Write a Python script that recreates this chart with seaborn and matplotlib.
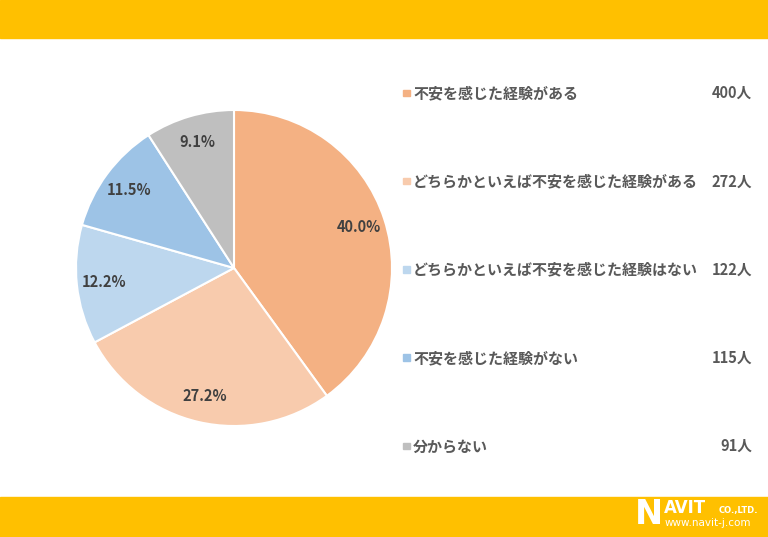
import matplotlib
matplotlib.use("Agg")
import matplotlib.pyplot as plt
import matplotlib.patches as mpatches
import numpy as np
import seaborn as sns

categories = ["不安を感じた経験がある", "どちらかといえば不安を感じた経験がある",
              "どちらかといえば不安を感じた経験はない", "不安を感じた経験がない", "分からない"]
counts = [400, 272, 122, 115, 91]
pct_labels = ["40.0%", "27.2%", "12.2%", "11.5%", "9.1%"]
colors = ["#F4B183", "#F8CBAD", "#BDD7EE", "#9DC3E6", "#BFBFBF"]

sns.set_theme(style="white")
plt.rcParams['font.family'] = ['Noto Sans CJK JP', 'DejaVu Sans']

W, H = 768, 537
fig = plt.figure(figsize=(W / 100, H / 100), dpi=100)
fig.patch.set_facecolor("white")

# yellow bands top and bottom
band = "#FFC000"
fig.add_artist(mpatches.Rectangle((0, 1 - 38 / H), 1, 38 / H, transform=fig.transFigure,
                                  color=band, zorder=0))
fig.add_artist(mpatches.Rectangle((0, 0), 1, 40 / H, transform=fig.transFigure,
                                  color=band, zorder=0))

# pie
cx, cy, r = 234, H - 268, 158
ax = fig.add_axes([(cx - r) / W, (cy - r) / H, 2 * r / W, 2 * r / H])
wedges, _ = ax.pie(counts, colors=colors, startangle=90, counterclock=False,
                   wedgeprops=dict(edgecolor="white", linewidth=1.5))
ax.set_xlim(-1, 1)
ax.set_ylim(-1, 1)
ax.set_aspect("equal")
for w, lab in zip(wedges, pct_labels):
    ang = np.deg2rad((w.theta1 + w.theta2) / 2)
    rr = 0.83
    ax.text(rr * np.cos(ang), rr * np.sin(ang), lab, ha="center", va="center",
            fontsize=10.5, fontweight="bold", color="#404040")
ax.axis("off")

# legend drawn by hand
text_col = "#595959"
for i, (cat, n, c) in enumerate(zip(categories, counts, colors)):
    y = (H - (93 + i * 88.3)) / H
    fig.add_artist(mpatches.Rectangle((403 / W, y - 3 / H), 6.5 / W, 6.5 / H,
                                      transform=fig.transFigure, color=c))
    fig.text(413 / W, y, cat, ha="left", va="center", fontsize=10.8,
             fontweight="bold", color=text_col)
    fig.text(752 / W, y, f"{n}人", ha="right", va="center", fontsize=10.5,
             fontweight="bold", color=text_col)

# logo
fig.text(635 / W, 22 / H, "N", ha="left", va="center", fontsize=24, fontweight="bold",
         color="white", family="DejaVu Sans")
fig.text(664 / W, 29 / H, "AVIT", ha="left", va="center", fontsize=12, fontweight="bold",
         color="white", family="DejaVu Sans")
fig.text(719 / W, 27 / H, "CO.,LTD.", ha="left", va="center", fontsize=6, fontweight="bold",
         color="white", family="DejaVu Sans")
fig.text(665 / W, 14 / H, "www.navit-j.com", ha="left", va="center", fontsize=7.5,
         color="white", family="DejaVu Sans")

fig.savefig("out.png", dpi=100)
